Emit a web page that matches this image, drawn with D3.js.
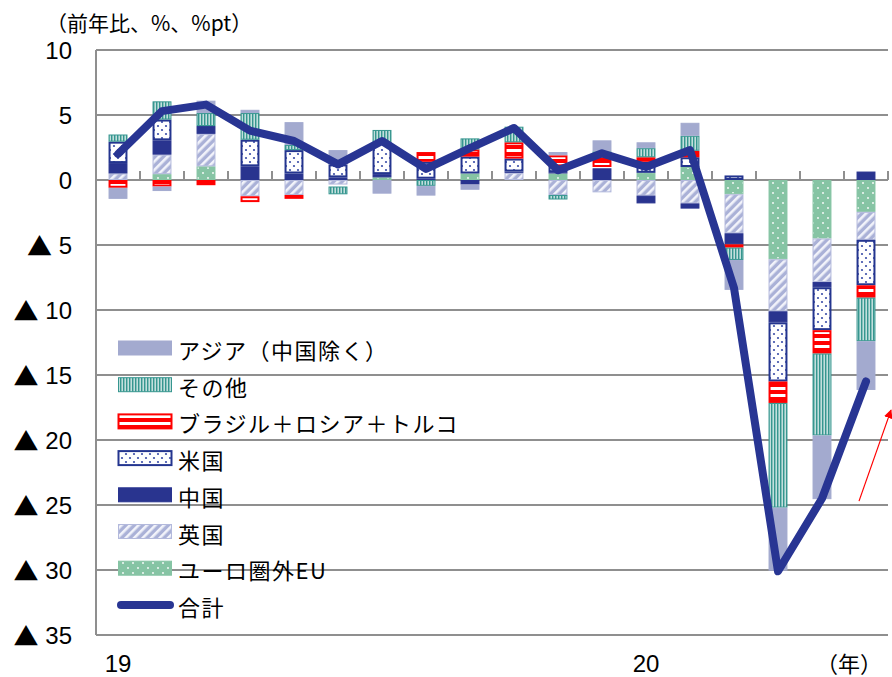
<!DOCTYPE html>
<html>
<head>
<meta charset="utf-8">
<script src="https://cdn.jsdelivr.net/npm/d3@7"></script>
<style>
  html, body { margin: 0; padding: 0; background: #fff; }
  svg { display: block; }
  text { font-family: "Liberation Sans", Arial, "Noto Sans CJK JP", sans-serif; fill: #000; }
  .jp, .jp tspan, tspan.jp { font-family: "Noto Sans CJK JP", "Liberation Sans", sans-serif; }
</style>
</head>
<body>
<svg id="chart" width="892" height="677"></svg>
<script>
// Months Jan 2019 – Jun 2020
const months = ["2019-01","2019-02","2019-03","2019-04","2019-05","2019-06",
                "2019-07","2019-08","2019-09","2019-10","2019-11","2019-12",
                "2020-01","2020-02","2020-03","2020-04","2020-05","2020-06"];

// Contributions by destination (%pt), in stacking order from the zero line outward
const euOther  = [0, 0.45, 1.05, 0, 0, 0, 0.2, 0, 0.5, 0, 0.5, 0, 0.55, 1.0, -1.1, -6.1, -4.5, -2.45];
const uk       = [0.5, 1.5, 2.5, -1.25, -1.15, -0.35, 0, 0, 0, 0.55, -1.15, -0.95, -1.2, -1.8, -3.0, -4.0, -3.35, -2.15];
const china    = [0.8, 1.1, 0.6, 1.05, 0.5, 0.2, 0.25, 0.1, -0.35, 0.1, 0.1, 0.9, -0.6, -0.4, -0.85, -0.85, -0.4, 0.65];
const usa      = [1.65, 1.6, 0, 2.05, 1.8, 1.0, 2.45, 1.3, 1.3, 1.0, 0.45, 0.1, 0.85, 0.75, 0.35, -4.55, -3.3, -3.5];
const brt      = [-0.6, -0.5, -0.4, -0.45, -0.3, -0.15, 0, 0.75, 0.55, 1.25, 0.85, 0.75, 0.35, 0.5, -0.25, -1.65, -1.8, -0.95];
const others   = [0.55, 1.4, 1.0, 2.05, 0.4, -0.6, 0.95, -0.45, 0.85, 1.2, -0.35, 0.45, 0.7, 1.15, -0.95, -8.05, -6.3, -3.35];
const asiaExCN = [-0.85, -0.35, 0.95, 0.25, 1.75, 1.1, -1.05, -0.75, -0.4, 0, 0.25, 0.85, 0.45, 1.0, -2.3, -4.85, -4.9, -3.75];

// Total (%, y/y)
const total = [2.0, 5.3, 5.8, 3.8, 3.0, 1.2, 3.0, 0.85, 2.45, 4.0, 0.75, 2.05, 1.0, 2.3, -8.3, -30.1, -24.5, -15.5];

const yTicks = [10, 5, 0, -5, -10, -15, -20, -25, -30, -35];
const xLabels = [{m: "2019-01", t: "19"}, {m: "2020-01", t: "20"}];

const seriesDefs = [
  {key: "eu",     name: "ユーロ圏外EU",          values: euOther,  fill: "url(#pEU)",     stroke: "#86c4a4", sw: 1},
  {key: "uk",     name: "英国",                  values: uk,       fill: "url(#pUK)",     stroke: "#b3b9dc", sw: 1},
  {key: "cn",     name: "中国",                  values: china,    fill: "#29348f",       stroke: "#29348f", sw: 1},
  {key: "us",     name: "米国",                  values: usa,      fill: "url(#pUS)",     stroke: "#24358f", sw: 2},
  {key: "brt",    name: "ブラジル＋ロシア＋トルコ", values: brt,      fill: "url(#pBRT)",    stroke: "#ff0000", sw: 2},
  {key: "oth",    name: "その他",                values: others,   fill: "url(#pOTH)",    stroke: "#36968f", sw: 1},
  {key: "asia",   name: "アジア（中国除く）",      values: asiaExCN, fill: "#a3aacf",       stroke: "#a3aacf", sw: 1}
];

const svg = d3.select("#chart");
const plot = {left: 96, right: 888, top: 50, bottom: 635};

// ---- fill patterns ----
const defs = svg.append("defs");
{
  const p = defs.append("pattern").attr("id", "pEU").attr("patternUnits", "userSpaceOnUse")
    .attr("width", 10).attr("height", 10);
  p.append("rect").attr("width", 10).attr("height", 10).attr("fill", "#86c4a4");
  p.append("circle").attr("cx", 3).attr("cy", 3).attr("r", 0.9).attr("fill", "#fff");
  p.append("circle").attr("cx", 8).attr("cy", 8).attr("r", 0.9).attr("fill", "#fff");
}
{
  const p = defs.append("pattern").attr("id", "pUK").attr("patternUnits", "userSpaceOnUse")
    .attr("width", 6).attr("height", 6).attr("patternTransform", "rotate(45)");
  p.append("rect").attr("width", 6).attr("height", 6).attr("fill", "#aab1d7");
  p.append("rect").attr("x", 0).attr("width", 2.6).attr("height", 6).attr("fill", "#f2f3fa");
}
{
  const p = defs.append("pattern").attr("id", "pUS").attr("patternUnits", "userSpaceOnUse")
    .attr("width", 8).attr("height", 8);
  p.append("rect").attr("width", 8).attr("height", 8).attr("fill", "#fff");
  p.append("circle").attr("cx", 2).attr("cy", 2).attr("r", 1.1).attr("fill", "#3a4da8");
  p.append("circle").attr("cx", 6).attr("cy", 6).attr("r", 1.1).attr("fill", "#3a4da8");
}
{
  const p = defs.append("pattern").attr("id", "pBRT").attr("patternUnits", "userSpaceOnUse")
    .attr("width", 7).attr("height", 7);
  p.append("rect").attr("width", 7).attr("height", 7).attr("fill", "#ff0000");
  p.append("rect").attr("y", 2).attr("width", 7).attr("height", 3).attr("fill", "#fff");
}
{
  const p = defs.append("pattern").attr("id", "pOTH").attr("patternUnits", "userSpaceOnUse")
    .attr("width", 3).attr("height", 3);
  p.append("rect").attr("width", 3).attr("height", 3).attr("fill", "#36968f");
  p.append("rect").attr("x", 1.6).attr("width", 1.1).attr("height", 3).attr("fill", "#fff");
}

// ---- scales ----
const x = d3.scaleBand().domain(months).range([plot.left, plot.right])
  .paddingInner(0.57).paddingOuter(0.285);
const y = d3.scaleLinear().domain([-35, 10]).range([plot.bottom, plot.top]);

// ---- grid ----
const gridColor = "#8f8f8f";
svg.append("g").selectAll("line").data(yTicks).join("line")
  .attr("x1", plot.left).attr("x2", plot.right)
  .attr("y1", d => y(d)).attr("y2", d => y(d))
  .attr("stroke", gridColor).attr("stroke-width", 2);
svg.append("line")
  .attr("x1", plot.left).attr("x2", plot.left)
  .attr("y1", y(10)).attr("y2", y(-35))
  .attr("stroke", gridColor).attr("stroke-width", 2);

// category separators on the zero line
const step = x.step();
svg.append("g").selectAll("line").data(months).join("line")
  .attr("x1", d => x(d) - x.paddingOuter() * step + step)
  .attr("x2", d => x(d) - x.paddingOuter() * step + step)
  .attr("y1", y(0)).attr("y2", y(0) - 9)
  .attr("stroke", gridColor).attr("stroke-width", 2);

// ---- legend (drawn beneath the bars) ----
const legendItems = seriesDefs.slice().reverse().concat([{key: "total", name: "合計"}]);
const lg = svg.append("g");
legendItems.forEach((s, i) => {
  const cy = 348 + i * 36.7;
  if (s.key === "total") {
    lg.append("line").attr("x1", 121).attr("x2", 170).attr("y1", cy).attr("y2", cy)
      .attr("stroke", "#283593").attr("stroke-width", 8).attr("stroke-linecap", "round");
  } else {
    lg.append("rect").attr("x", 118.5).attr("y", cy - 7).attr("width", 53).attr("height", 14)
      .attr("fill", s.fill).attr("stroke", s.stroke).attr("stroke-width", s.sw);
  }
  lg.append("text").attr("class", "jp").attr("x", 178).attr("y", cy + 1)
    .attr("dominant-baseline", "central").attr("font-size", 22)
    .attr("letter-spacing", 1.5).text(s.name);
});

// ---- stacked bars ----
const rows = months.map((m, i) => {
  const r = {month: m};
  seriesDefs.forEach(s => r[s.key] = s.values[i]);
  return r;
});
const stack = d3.stack().keys(seriesDefs.map(s => s.key))
  .order(d3.stackOrderNone).offset(d3.stackOffsetDiverging);
const layers = stack(rows);

const barG = svg.append("g");
layers.forEach((layer, li) => {
  const s = seriesDefs[li];
  barG.append("g").selectAll("rect").data(layer.filter(d => d[1] - d[0] !== 0)).join("rect")
    .attr("x", d => x(d.data.month) + s.sw / 2)
    .attr("width", x.bandwidth() - s.sw)
    .attr("y", d => y(Math.max(d[0], d[1])) + s.sw / 2)
    .attr("height", d => Math.max(0, Math.abs(y(d[0]) - y(d[1])) - s.sw))
    .attr("fill", s.fill).attr("stroke", s.stroke).attr("stroke-width", s.sw);
});

// ---- total line ----
const line = d3.line().x((d, i) => x(months[i]) + x.bandwidth() / 2).y(d => y(d));
svg.append("path").datum(total).attr("d", line)
  .attr("fill", "none").attr("stroke", "#283593").attr("stroke-width", 8)
  .attr("stroke-linejoin", "round").attr("stroke-linecap", "round");

// ---- red arrow annotation ----
defs.append("marker").attr("id", "arrowHead").attr("viewBox", "0 0 10 10")
  .attr("refX", 9).attr("refY", 5).attr("markerWidth", 9).attr("markerHeight", 9)
  .attr("markerUnits", "userSpaceOnUse").attr("orient", "auto")
  .append("path").attr("d", "M0,0 L10,5 L0,10 Z").attr("fill", "#ff0000");
const lastM = months[months.length - 1];
const ax0 = x(lastM) + x.bandwidth() / 2 - 7, ax1 = ax0 + 32;
svg.append("line")
  .attr("x1", ax0).attr("y1", y(-24.7)).attr("x2", ax1).attr("y2", y(-17.7))
  .attr("stroke", "#ff0000").attr("stroke-width", 1.2).attr("marker-end", "url(#arrowHead)");

// ---- axis labels ----
const yl = svg.append("g").selectAll("text").data(yTicks).join("text")
  .attr("x", 72).attr("y", d => y(d)).attr("text-anchor", "end")
  .attr("dominant-baseline", "central").attr("font-size", 24);
yl.filter(d => d < 0).append("tspan").attr("class", "jp").attr("font-size", 25).text("▲");
yl.append("tspan").text(d => d < 0 ? " " + Math.abs(d) : String(d));

svg.append("g").selectAll("text").data(xLabels).join("text")
  .attr("x", d => x(d.m) + x.bandwidth() / 2).attr("y", 663)
  .attr("text-anchor", "middle").attr("dominant-baseline", "central")
  .attr("font-size", 24).text(d => d.t);

svg.append("text").attr("class", "jp").attr("x", 849).attr("y", 662)
  .attr("text-anchor", "middle").attr("dominant-baseline", "central")
  .attr("font-size", 22).text("（年）");

svg.append("text").attr("class", "jp").attr("x", 46).attr("y", 22)
  .attr("dominant-baseline", "central").attr("font-size", 21).text("（前年比、%、%pt）");
</script>
</body>
</html>
